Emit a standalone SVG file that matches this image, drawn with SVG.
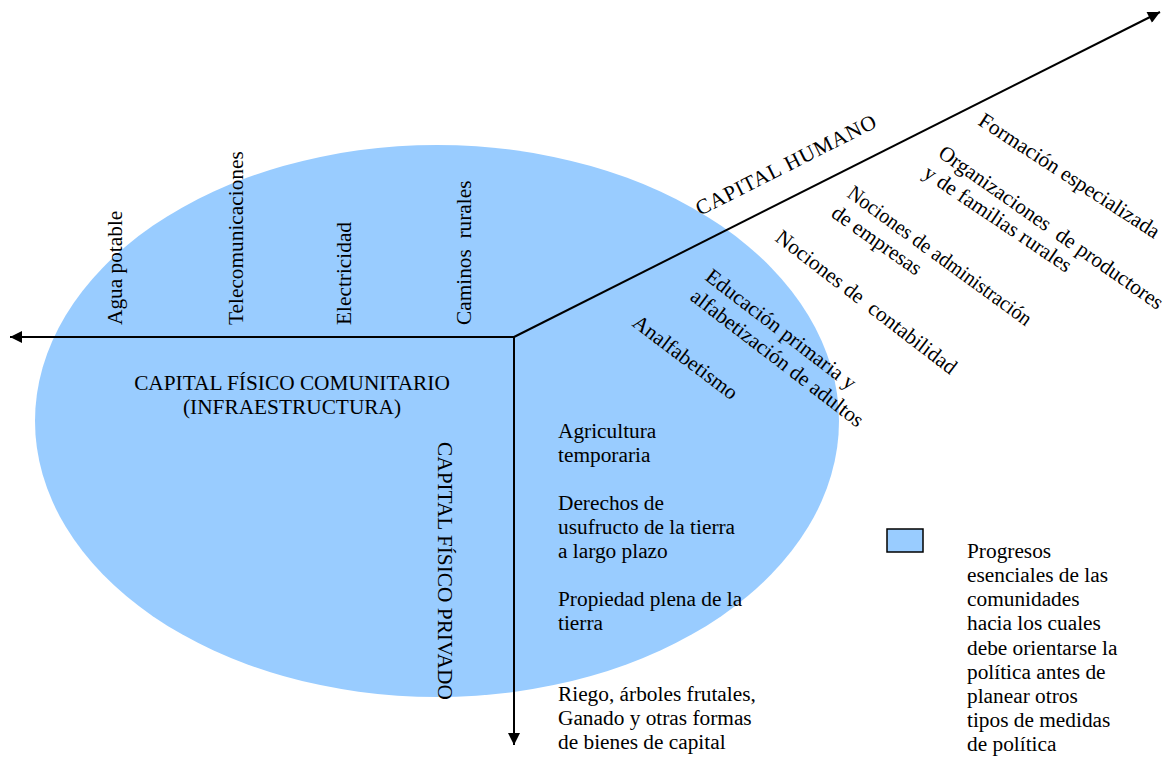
<svg xmlns="http://www.w3.org/2000/svg" width="1173" height="758" viewBox="0 0 1173 758">
<style>
text{font-family:"Liberation Serif","Times New Roman",serif;font-size:21.33px;fill:#000}
.pre{white-space:pre}
.axis{stroke:#000;stroke-width:2;fill:none}
</style>
<defs>
<marker id="ah" viewBox="0 0 10 10" refX="10" refY="5" markerWidth="16" markerHeight="12" markerUnits="userSpaceOnUse" orient="auto">
<path d="M0,0 L10,5 L0,10 z" fill="#000"/>
</marker>
</defs>
<rect width="1173" height="758" fill="#fff"/>
<g id="area">
<ellipse cx="437" cy="421" rx="402" ry="276" fill="#99ccff"/>
</g>
<g id="connectors">
<line class="axis" x1="514" y1="337" x2="10" y2="337" marker-end="url(#ah)"/>
<line class="axis" x1="514" y1="337" x2="514" y2="745" marker-end="url(#ah)"/>
<line class="axis" x1="514" y1="337" x2="1160" y2="12" marker-end="url(#ah)"/>
</g>
<g id="comunitario">
<text x="292" y="390" text-anchor="middle">CAPITAL FÍSICO COMUNITARIO</text>
<text x="292" y="414" text-anchor="middle">(INFRAESTRUCTURA)</text>
<text transform="translate(122,325) rotate(-90)">Agua potable</text>
<text transform="translate(243,325) rotate(-90)">Telecomunicaciones</text>
<text transform="translate(351,325) rotate(-90)">Electricidad</text>
<text class="pre" transform="translate(471,325) rotate(-90)">Caminos  rurales</text>
</g>
<g id="privado">
<text transform="translate(438,442) rotate(90)">CAPITAL FÍSICO PRIVADO</text>
<text x="558" y="438">Agricultura</text>
<text x="558" y="462">temporaria</text>
<text x="558" y="510">Derechos de</text>
<text x="558" y="534">usufructo de la tierra</text>
<text x="558" y="558">a largo plazo</text>
<text x="558" y="606">Propiedad plena de la</text>
<text x="558" y="630">tierra</text>
<text x="558" y="701">Riego, árboles frutales,</text>
<text x="558" y="725">Ganado y otras formas</text>
<text x="558" y="749">de bienes de capital</text>
</g>
<g id="humano">
<text transform="translate(700,216) rotate(-26.7)" letter-spacing="0.8">CAPITAL HUMANO</text>
<text transform="translate(977,124) rotate(33)">Formación especializada</text>
<text class="pre" transform="translate(937,156) rotate(35)">Organizaciones  de productores</text>
<text transform="translate(922,176) rotate(34)">y de familias rurales</text>
<text transform="translate(846,196) rotate(36)" textLength="222" lengthAdjust="spacingAndGlyphs">Nociones de administración</text>
<text transform="translate(830,216) rotate(35)">de empresas</text>
<text class="pre" transform="translate(774,240) rotate(37.5)">Nociones de  contabilidad</text>
<text transform="translate(704,279) rotate(37.5)">Educación primaria y</text>
<text transform="translate(689,299) rotate(37.5)">alfabetización de adultos</text>
<text transform="translate(631,325) rotate(37)">Analfabetismo</text>
</g>
<g id="legend">
<rect x="887" y="529" width="36" height="23" fill="#99ccff" stroke="#000" stroke-width="1.5"/>
<text x="967" y="558">Progresos</text>
<text x="967" y="582">esenciales de las</text>
<text x="967" y="606">comunidades</text>
<text x="967" y="630">hacia los cuales</text>
<text x="967" y="655">debe orientarse la</text>
<text x="967" y="679">política antes de</text>
<text x="967" y="703">planear otros</text>
<text x="967" y="727">tipos de medidas</text>
<text x="967" y="751">de política</text>
</g>
</svg>
